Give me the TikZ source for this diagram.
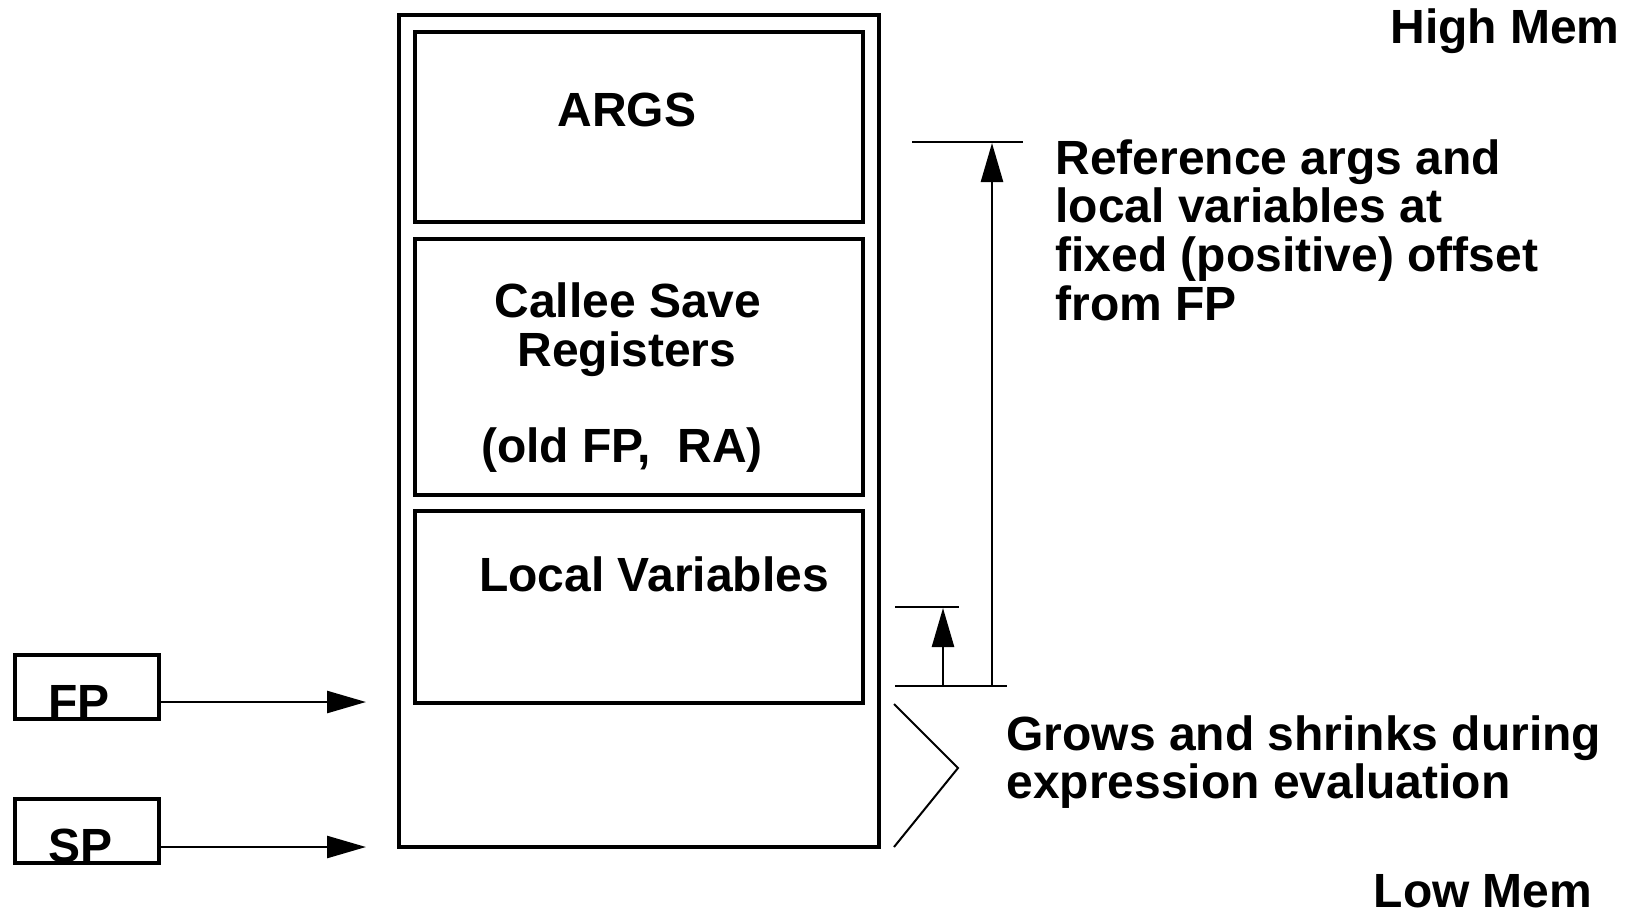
\documentclass[tikz,border=0pt]{standalone}
\usepackage{fontspec}
\setmainfont{Liberation Sans}
\usetikzlibrary{arrows.meta}
\begin{document}
\begin{tikzpicture}[x=0.5pt,y=-0.5pt,
  box/.style={draw, line width=1.6pt, inner sep=0pt},
  lbl/.style={inner sep=0pt, font=\fontsize{24pt}{24pt}\selectfont\bfseries},
  arr/.style={line width=1.3pt, -{Triangle[length=19.5pt,width=11pt]}},
  rule/.style={line width=1.3pt},
  brace/.style={line width=1pt}]
\fill[white] (0,0) rectangle (1629,912);
\useasboundingbox (0,0) rectangle (1629,912);

% stack frame
\node[box, minimum width=240pt, minimum height=416pt] (stack) at (639,431) {};
\node[box, minimum width=224pt, minimum height=95pt] (args) at (639,127) {};
\node[box, minimum width=224pt, minimum height=128pt] (callee) at (639,367) {};
\node[box, minimum width=224pt, minimum height=96pt] (locals) at (639,607) {};

\node[lbl, anchor=base] (argst) at (627,126) {ARGS};
\node[lbl, anchor=base] (callee1) at (628,317) {Callee Save};
\node[lbl, anchor=base] (callee2) at (627,366) {Registers};
\node[lbl, anchor=base] (callee3) at (622,462) {(old FP,\ \ RA)};
\node[lbl, anchor=base] (localst) at (654,591) {Local Variables};

% FP / SP registers
\node[box, minimum width=72pt, minimum height=32pt] (fpbox) at (87,687) {};
\node[box, minimum width=72pt, minimum height=32pt] (spbox) at (87,831) {};
\node[lbl, anchor=base west] (fpt) at (48,718) {FP};
\node[lbl, anchor=base west] (spt) at (48,862) {SP};
\coordinate (fpend) at (366,702);
\coordinate (spend) at (366,847);
\draw[arr] (fpbox.east |- fpend) -- (fpend);
\draw[arr] (spbox.east |- spend) -- (spend);

% offset arrows
\coordinate (baseL) at (895,686);
\coordinate (baseR) at (1007,686);
\coordinate (topL) at (912,142);
\coordinate (topR) at (1023,142);
\coordinate (smallL) at (895,607);
\coordinate (smallR) at (959,607);
\draw[rule] (baseL) -- (baseR);
\draw[rule] (topL) -- (topR);
\draw[rule] (smallL) -- (smallR);
\coordinate (bigfoot) at (992,686);
\coordinate (bigtip) at (992,143);
\coordinate (smallfoot) at (943,686);
\coordinate (smalltip) at (943,608);
\draw[arr] (bigfoot) -- (bigtip);
\draw[arr] (smallfoot) -- (smalltip);

% expression stack brace
\coordinate (brtop) at (894,704);
\coordinate (brtip) at (958,768);
\coordinate (brbot) at (894,847);
\draw[brace] (brtop) -- (brtip) -- (brbot);

% texts
\node[lbl, anchor=base] (high) at (1505,43) {High Mem};
\node[lbl, anchor=base] (low) at (1483,907) {Low Mem};
\node[lbl, anchor=base west] (ref1) at (1055,174) {Reference args and};
\node[lbl, anchor=base west] (ref2) at (1055,222) {local variables at};
\node[lbl, anchor=base west] (ref3) at (1055,271) {fixed (positive) offset};
\node[lbl, anchor=base west] (ref4) at (1055,320) {from FP};
\node[lbl, anchor=base west] (grow1) at (1006,750) {Grows and shrinks during};
\node[lbl, anchor=base west] (grow2) at (1006,798) {expression evaluation};
\end{tikzpicture}
\end{document}
